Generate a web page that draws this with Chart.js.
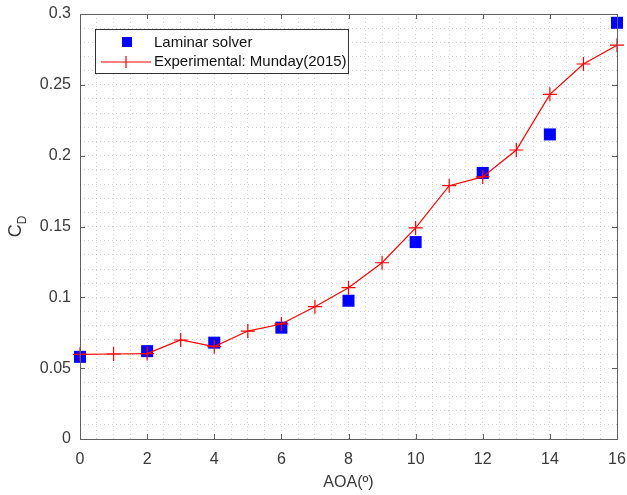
<!DOCTYPE html>
<html>
<head>
<meta charset="utf-8">
<script src="https://cdn.jsdelivr.net/npm/chart.js@4"></script>
<style>
  html, body { margin: 0; padding: 0; background: #fff; }
  #wrap { width: 627px; height: 495px; }
</style>
</head>
<body>
<div id="wrap"><canvas id="cd-chart" width="627" height="495"></canvas></div>
<script>
// angle of attack (deg) and drag coefficient
const expAoa = [0, 1, 2, 3, 4, 5, 6, 7, 8, 9, 10, 11, 12, 13, 14, 15, 16];
const expCd = [0.0598, 0.060, 0.0603, 0.0699, 0.0652, 0.0762, 0.0812, 0.0934, 0.1068, 0.1244, 0.149, 0.1788, 0.185, 0.204, 0.2433, 0.2647, 0.278];
const lamAoa = [0, 2, 4, 6, 8, 10, 12, 14, 16];
const lamCd = [0.058, 0.062, 0.068, 0.0786, 0.0976, 0.139, 0.1878, 0.215, 0.2938];
const xTicks = [0, 2, 4, 6, 8, 10, 12, 14, 16];
const yTicks = [0, 0.05, 0.1, 0.15, 0.2, 0.25, 0.3];
const seriesNames = ["Laminar solver", "Experimental: Munday(2015)"];

const FONT = "'Liberation Sans', Arial, sans-serif";
const TXT = "#3a3a3a";
const GRID = "rgba(0,0,0,0.18)";

function toPts(xs, ys) {
  return xs.map((x, i) => ({ x: x, y: ys[i] }));
}

// box, inward tick marks, y title with subscript and the legend
const decor = {
  id: "decor",
  afterDraw(chart) {
    const ctx = chart.ctx;
    const a = chart.chartArea;
    const sx = chart.scales.x, sy = chart.scales.y;
    ctx.save();
    ctx.strokeStyle = "#606060";
    ctx.lineWidth = 1;
    ctx.strokeRect(Math.round(a.left) + 0.5, Math.round(a.top) + 0.5,
      Math.round(a.right - a.left), Math.round(a.bottom - a.top));
    ctx.beginPath();
    xTicks.forEach((v) => {
      const px = Math.round(sx.getPixelForValue(v)) + 0.5;
      ctx.moveTo(px, a.bottom); ctx.lineTo(px, a.bottom - 5);
      ctx.moveTo(px, a.top); ctx.lineTo(px, a.top + 5);
    });
    yTicks.forEach((v) => {
      const py = Math.round(sy.getPixelForValue(v)) + 0.5;
      ctx.moveTo(a.left, py); ctx.lineTo(a.left + 5, py);
      ctx.moveTo(a.right, py); ctx.lineTo(a.right - 5, py);
    });
    ctx.stroke();

    // C_D
    ctx.fillStyle = TXT;
    ctx.translate(21, (a.top + a.bottom) / 2);
    ctx.rotate(-Math.PI / 2);
    ctx.textBaseline = "alphabetic";
    ctx.font = "18px " + FONT;
    const wC = ctx.measureText("C").width;
    ctx.font = "12px " + FONT;
    const wD = ctx.measureText("D").width;
    const x0 = -(wC + wD) / 2;
    ctx.font = "18px " + FONT;
    ctx.fillText("C", x0, 0);
    ctx.font = "12px " + FONT;
    ctx.fillText("D", x0 + wC, 5);
    ctx.restore();

    // legend
    ctx.save();
    const lx = 95.5, ly = 29.5, lw = 253, lh = 44;
    ctx.fillStyle = "#fff";
    ctx.fillRect(lx, ly, lw, lh);
    ctx.strokeStyle = "#333";
    ctx.lineWidth = 1;
    ctx.strokeRect(lx, ly, lw, lh);
    ctx.fillStyle = "#0000ff";
    ctx.fillRect(122, 37, 10, 10);
    ctx.strokeStyle = "#ff0000";
    ctx.lineWidth = 1.2;
    ctx.beginPath();
    ctx.moveTo(101, 62); ctx.lineTo(151, 62);
    ctx.moveTo(126, 56); ctx.lineTo(126, 68);
    ctx.stroke();
    ctx.fillStyle = "#111";
    ctx.font = "15px " + FONT;
    ctx.textBaseline = "middle";
    ctx.fillText(seriesNames[0], 154, 43);
    ctx.fillText(seriesNames[1], 154, 62);
    ctx.restore();
  }
};

new Chart(document.getElementById("cd-chart"), {
  type: "scatter",
  data: {
    datasets: [
      {
        label: seriesNames[1],
        data: toPts(expAoa, expCd),
        showLine: true,
        borderColor: "#ff0000",
        borderWidth: 1.2,
        pointStyle: "cross",
        pointRadius: 7,
        pointBorderWidth: 1.2,
        pointBorderColor: "#ff0000",
        tension: 0,
        clip: false,
        order: 0,
      },
      {
        label: seriesNames[0],
        data: toPts(lamAoa, lamCd),
        showLine: false,
        pointStyle: "rect",
        pointRadius: 8.5,
        backgroundColor: "#0000ff",
        borderColor: "#0000ff",
        pointBorderWidth: 0,
        clip: false,
        order: 1,
      },
    ],
  },
  options: {
    responsive: false,
    animation: false,
    events: [],
    layout: { padding: { top: 14, right: 10, left: 0, bottom: 0 } },
    plugins: { legend: { display: false }, tooltip: { enabled: false } },
    scales: {
      x: {
        type: "linear",
        min: 0,
        max: 16,
        afterFit(scale) {
          scale.height = 56;
          scale.paddingLeft = 0;
          scale.paddingRight = 0;
        },
        grid: { color: GRID, lineWidth: 1, drawTicks: false },
        border: { display: false, dash: [1, 3] },
        ticks: {
          stepSize: 0.5,
          autoSkip: false,
          maxRotation: 0,
          padding: 11,
          color: TXT,
          font: { family: FONT, size: 16 },
          callback: (v) => (xTicks.includes(v) ? String(v) : ""),
        },
        title: {
          display: true,
          text: "AOA(º)",
          color: TXT,
          font: { family: FONT, size: 16 },
          padding: { top: 0, bottom: 3 },
        },
      },
      y: {
        type: "linear",
        min: 0,
        max: 0.3,
        afterFit(scale) {
          scale.width = 80;
          scale.paddingTop = 0;
          scale.paddingBottom = 0;
        },
        grid: { color: GRID, lineWidth: 1, drawTicks: false },
        border: { display: false, dash: [1, 3] },
        ticks: {
          stepSize: 0.01,
          autoSkip: false,
          padding: 9,
          color: TXT,
          font: { family: FONT, size: 16 },
          callback: (v) => {
            const hit = yTicks.find((t) => Math.abs(t - v) < 1e-6);
            return hit === undefined ? "" : String(hit);
          },
        },
      },
    },
  },
  plugins: [decor],
});
</script>
</body>
</html>
